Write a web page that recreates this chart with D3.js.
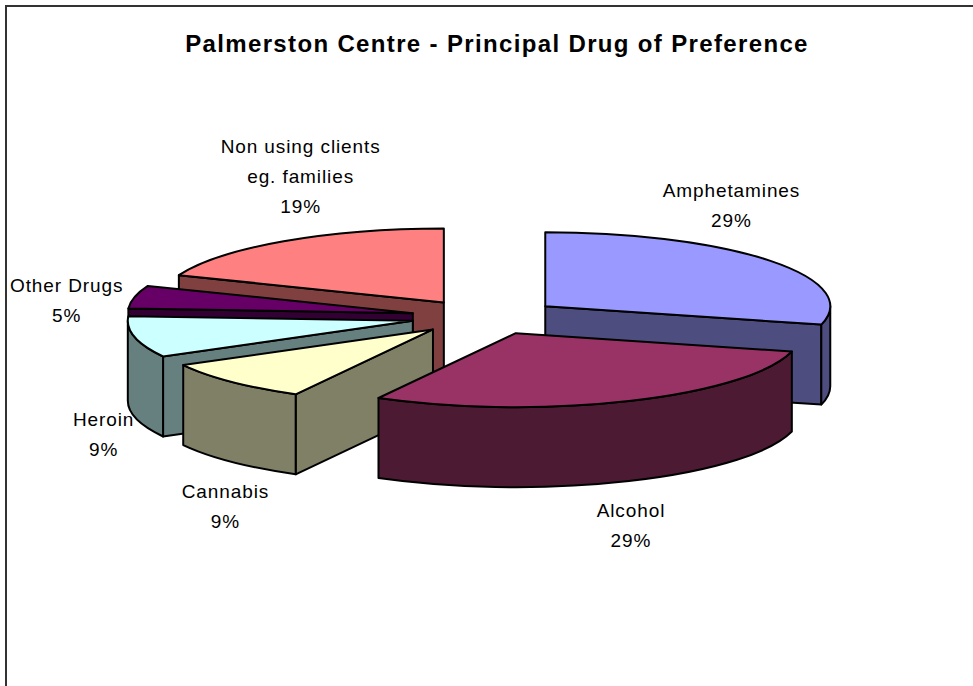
<!DOCTYPE html>
<html>
<head>
<meta charset="utf-8">
<script src="https://cdn.jsdelivr.net/npm/d3@7"></script>
<style>
  html, body { margin: 0; padding: 0; background: #fff; }
  svg { display: block; }
</style>
</head>
<body>
<svg id="chart" width="973" height="686"></svg>
<script>
// ---- data ----
const categories = ["Amphetamines", "Alcohol", "Cannabis", "Heroin", "Other Drugs", "Non using clients\neg. families"];
const values = [29, 29, 9, 9, 5, 19];
const topColors = ["#9999FF", "#993366", "#FFFFCC", "#CCFFFF", "#660066", "#FF8080"];
const title = "Palmerston Centre - Principal Drug of Preference";

// ---- layout ----
const W = 973, H = 686;
const cx = 486, cy = 317;          // pie centre (top face)
const rx = 285, ry = 74;           // projected ellipse radii
const depth = 80;                  // pie thickness on screen
const explodeX = 75, explodeY = 17.6;
// label anchor offsets from each slice's mid-rim point (first baseline)
const labelOffsets = [[-39, -64], [2, 116], [-6, 116], [-31, 89], [-68, -5], [17, -88]];
const font = "'Liberation Sans', Arial, sans-serif";

const svg = d3.select("#chart");

// outer frame (top and left edges)
svg.append("path")
  .attr("d", `M6,${H + 5}V6H${W + 5}`)
  .attr("fill", "none")
  .attr("stroke", "#333")
  .attr("stroke-width", 2);

// title
svg.append("text")
  .attr("x", 497).attr("y", 52)
  .attr("text-anchor", "middle")
  .attr("font-family", font)
  .attr("font-weight", "bold")
  .attr("font-size", 24)
  .attr("letter-spacing", 1.35)
  .attr("fill", "#000")
  .text(title);

// ---- slices ----
const arcs = d3.pie().sort(null).value(d => d)(values);

const slices = arcs.map((p, i) => {
  const mid = (p.startAngle + p.endAngle) / 2;
  return {
    ...p, i, mid,
    ox: cx + explodeX * Math.sin(mid),
    oy: cy - explodeY * Math.cos(mid),
    top: topColors[i],
    side: (() => { const c = d3.rgb(topColors[i]); return d3.rgb(c.r * 0.5, c.g * 0.5, c.b * 0.5).formatHex(); })()
  };
});

function rim(s, a, dz = 0) {
  return [s.ox + rx * Math.sin(a), s.oy - ry * Math.cos(a) + dz];
}
const pt = p => `${p[0].toFixed(2)},${p[1].toFixed(2)}`;

function topPath(s) {
  const p1 = rim(s, s.startAngle), p2 = rim(s, s.endAngle);
  const large = (s.endAngle - s.startAngle) > Math.PI ? 1 : 0;
  return `M${pt([s.ox, s.oy])}L${pt(p1)}A${rx},${ry} 0 ${large} 1 ${pt(p2)}Z`;
}

function outerPath(s) {
  const b1 = Math.max(s.startAngle, Math.PI / 2);
  const b2 = Math.min(s.endAngle, 3 * Math.PI / 2);
  if (b2 - b1 <= 1e-6) return null;
  const p1 = rim(s, b1), p2 = rim(s, b2), q2 = rim(s, b2, depth), q1 = rim(s, b1, depth);
  return `M${pt(p1)}A${rx},${ry} 0 0 1 ${pt(p2)}L${pt(q2)}A${rx},${ry} 0 0 0 ${pt(q1)}Z`;
}

function radialPath(s, a) {
  const r = rim(s, a), rb = rim(s, a, depth);
  return `M${pt([s.ox, s.oy])}L${pt(r)}L${pt(rb)}L${pt([s.ox, s.oy + depth])}Z`;
}

// back-to-front drawing order
const order = slices.slice().sort((a, b) => Math.cos(b.mid) - Math.cos(a.mid));

const g = svg.append("g")
  .attr("stroke", "#000")
  .attr("stroke-width", 2)
  .attr("stroke-linejoin", "round");

order.forEach(s => {
  const sg = g.append("g");
  // radial side faces that face the viewer
  if (Math.cos(s.startAngle - Math.PI / 2) < -1e-6)
    sg.append("path").attr("d", radialPath(s, s.startAngle)).attr("fill", s.side);
  if (Math.cos(s.endAngle + Math.PI / 2) < -1e-6)
    sg.append("path").attr("d", radialPath(s, s.endAngle)).attr("fill", s.side);
  const op = outerPath(s);
  if (op) sg.append("path").attr("d", op).attr("fill", s.side);
  sg.append("path").attr("d", topPath(s)).attr("fill", s.top);
});

// ---- labels ----
const labels = svg.append("g")
  .attr("font-family", font)
  .attr("font-size", 19)
  .attr("letter-spacing", 0.9)
  .attr("fill", "#000")
  .attr("text-anchor", "middle");

slices.forEach(s => {
  const m = rim(s, s.mid);
  const [dx, dy] = labelOffsets[s.i];
  const lines = categories[s.i].split("\n").concat([`${values[s.i]}%`]);
  const t = labels.append("text")
    .attr("x", m[0] + dx)
    .attr("y", m[1] + dy);
  lines.forEach((ln, k) => {
    t.append("tspan")
      .attr("x", m[0] + dx)
      .attr("dy", k === 0 ? 0 : 30)
      .text(ln);
  });
});
</script>
</body>
</html>
